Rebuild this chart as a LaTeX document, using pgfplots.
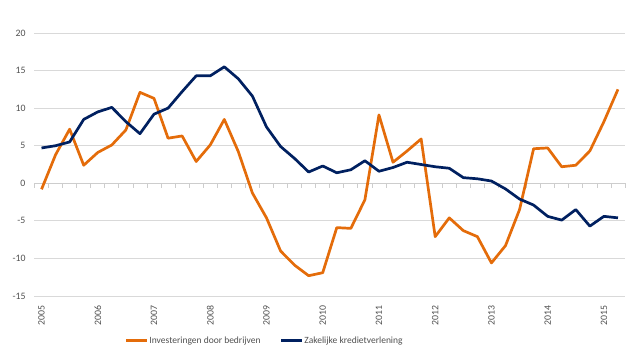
\documentclass[border=0pt]{standalone}
\usepackage{pgfplots}
\usepackage{pgfplotstable}
\pgfplotsset{compat=1.18}
\usepackage{fontspec}
\setmainfont{Carlito}
\definecolor{orng}{RGB}{228,108,10}
\definecolor{navy}{RGB}{0,32,96}
\definecolor{gridc}{RGB}{217,217,217}
\definecolor{zeroc}{RGB}{205,205,205}
\definecolor{txt}{RGB}{80,80,80}

\pgfplotstableread{
q inv kred
0 -0.8 4.7
1 3.8 5.0
2 7.2 5.5
3 2.4 8.5
4 4.1 9.5
5 5.1 10.1
6 7.1 8.2
7 12.1 6.6
8 11.3 9.2
9 6.0 10.0
10 6.3 12.2
11 2.9 14.3
12 5.1 14.3
13 8.5 15.5
14 4.2 13.9
15 -1.3 11.6
16 -4.6 7.5
17 -9.0 4.9
18 -10.9 3.3
19 -12.3 1.5
20 -11.9 2.3
21 -5.9 1.4
22 -6.0 1.8
23 -2.2 3.0
24 9.1 1.6
25 2.8 2.1
26 4.3 2.8
27 5.9 2.5
28 -7.1 2.2
29 -4.6 2.0
30 -6.3 0.75
31 -7.1 0.6
32 -10.6 0.3
33 -8.3 -0.75
34 -3.5 -2.1
35 4.6 -2.9
36 4.7 -4.4
37 2.2 -4.9
38 2.4 -3.5
39 4.3 -5.7
40 8.2 -4.4
41 12.5 -4.6
}\datatable

\begin{document}
\begin{tikzpicture}
\useasboundingbox (-34.5pt,-57pt) rectangle (605.5pt,296pt);
\begin{axis}[
  at={(0pt,0pt)}, anchor=south west,
  scale only axis, width=590.5pt, height=263pt,
  xmin=-0.5, xmax=41.5, ymin=-15, ymax=20,
  ytick={-15,-10,-5,0,5,10,15,20},
  yticklabels={-15,-10,-5,0,5,10,15,20},
  xtick={0,4,...,40},
  xticklabels={2005,2006,2007,2008,2009,2010,2011,2012,2013,2014,2015},
  ymajorgrids, grid style={gridc, line width=0.75pt},
  axis line style={draw=none},
  tick style={draw=none},
  x tick label style={rotate=90, anchor=east, font=\fontsize{9.8}{11}\selectfont, text=txt},
  y tick label style={font=\fontsize{9.8}{11}\selectfont, text=txt},
  xticklabel shift=6pt,
  yticklabel shift=5.5pt,
  legend style={at={(0.389,-0.170)}, anchor=center, draw=none, fill=none,
    font=\fontsize{9.5}{11}\selectfont, text=txt,
    /tikz/every even column/.append style={column sep=18pt},
    nodes={inner sep=1pt}},
  legend columns=2,
  legend image code/.code={\draw[#1] (0pt,0pt) -- (21pt,0pt);},
  clip=false,
]
\draw[zeroc, line width=0.75pt] (axis cs:-0.5,0) -- (axis cs:41.5,0);
\pgfplotsinvokeforeach{0,...,42}{
  \draw[zeroc, line width=0.75pt] (axis cs:#1-0.5,0) -- ([yshift=-5pt]axis cs:#1-0.5,0);
}
\addplot[orng, line width=2.7pt, line join=round] table[x=q, y=inv] {\datatable};
\addlegendentry{Investeringen door bedrijven}
\addplot[navy, line width=2.7pt, line join=round] table[x=q, y=kred] {\datatable};
\addlegendentry{Zakelijke kredietverlening}
\end{axis}
\end{tikzpicture}
\end{document}
